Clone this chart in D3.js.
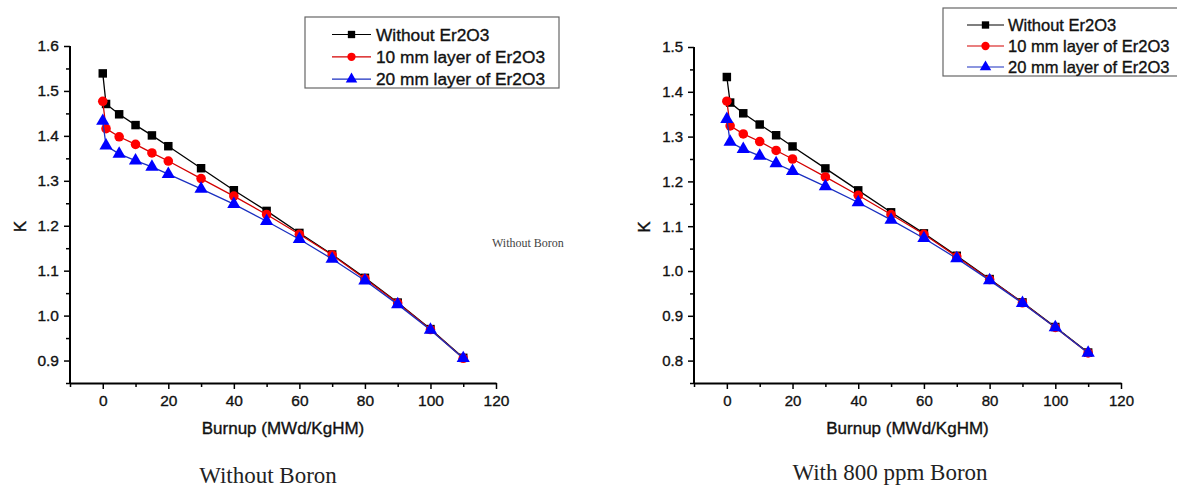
<!DOCTYPE html>
<html><head><meta charset="utf-8">
<script src="https://cdn.jsdelivr.net/npm/d3@7"></script>
<style>body{margin:0;background:#fff}svg{display:block}</style>
</head><body>
<svg id="c" width="1177" height="487"></svg>
<script>
const burnup = [0,1,5,10,15,20,30,40,50,60,70,80,90,100,110];
const seriesNames = ["Without Er2O3","10 mm layer of Er2O3","20 mm layer of Er2O3"];
// Without boron
const noEr_noB = [1.539,1.471,1.448,1.424,1.401,1.377,1.328,1.279,1.233,1.184,1.136,1.084,1.029,0.970,0.906];
const er10_noB = [1.477,1.416,1.398,1.381,1.362,1.344,1.305,1.266,1.225,1.181,1.135,1.082,1.028,0.969,0.905];
const er20_noB = [1.433,1.378,1.360,1.345,1.331,1.315,1.282,1.248,1.210,1.170,1.126,1.078,1.025,0.968,0.905];
// With 800 ppm boron
const noEr_B = [1.433,1.376,1.352,1.327,1.303,1.278,1.229,1.180,1.131,1.084,1.034,0.982,0.930,0.875,0.818];
const er10_B = [1.379,1.324,1.306,1.289,1.269,1.250,1.210,1.169,1.126,1.082,1.032,0.981,0.929,0.874,0.817];
const er20_B = [1.339,1.288,1.272,1.257,1.240,1.223,1.189,1.153,1.114,1.073,1.028,0.979,0.928,0.874,0.817];
const xTicks = [0,20,40,60,80,100,120];
const yTicksLeft = [0.9,1.0,1.1,1.2,1.3,1.4,1.5,1.6];
const yTicksRight = [0.8,0.9,1.0,1.1,1.2,1.3,1.4,1.5];
const captions = ["Without Boron","With 800 ppm Boron"];

const svg = d3.select("#c");
const styles = [
  {line:"#000", fill:"#000", sym:d3.symbolSquare, size:72},
  {line:"#d40000", fill:"#f00", sym:d3.symbolCircle, size:72},
  {line:"#1a2fc0", fill:"#00f", sym:d3.symbolTriangle, size:76}
];
const font = "'Liberation Sans', Arial, sans-serif";
const serif = "'Liberation Serif', 'Times New Roman', serif";
function heavy(sel){ return sel.attr("stroke","#111").attr("stroke-width",0.35); }

function panel(cfg){
  const g = svg.append("g");
  const x = d3.scaleLinear().domain([-10,120]).range([cfg.x0, cfg.x1]);
  const y = d3.scaleLinear().domain(cfg.yDom).range([cfg.yBottom, cfg.yTop]);
  // minor ticks
  const xa = d3.axisBottom(x).tickValues(d3.range(-10,121,10).filter(v=>v%20!==0)).tickSize(4).tickFormat("");
  g.append("g").attr("transform",`translate(0,${cfg.yBottom})`).call(xa).call(s=>s.select(".domain").remove()).selectAll("line").attr("stroke-width",1.5);
  const ya = d3.axisLeft(y).tickValues(d3.range(Math.round(cfg.yDom[0]*100), Math.round(cfg.yDom[1]*100)+1, 5).map(v=>v/100).filter(v=>!cfg.yTicks.some(t=>Math.abs(t-v)<1e-6))).tickSize(4).tickFormat("");
  g.append("g").attr("transform",`translate(${cfg.x0},0)`).call(ya).call(s=>s.select(".domain").remove()).selectAll("line").attr("stroke-width",1.5);
  // major
  const xA = g.append("g").attr("transform",`translate(0,${cfg.yBottom})`)
    .call(d3.axisBottom(x).tickValues(xTicks).tickSize(6).tickSizeOuter(0).tickPadding(6).tickFormat(d3.format("d")));
  xA.select(".domain").attr("stroke-width",2);
  xA.selectAll("line").attr("stroke-width",1.5);
  heavy(xA.selectAll("text").attr("font-family",font).attr("font-size",cfg.tickFs).attr("fill","#111"));
  const yA = g.append("g").attr("transform",`translate(${cfg.x0},0)`)
    .call(d3.axisLeft(y).tickValues(cfg.yTicks).tickSize(6).tickSizeOuter(0).tickPadding(5).tickFormat(d3.format(".1f")));
  yA.select(".domain").attr("stroke-width",2).attr("d",`M0,${cfg.yBottom}V${cfg.yTop}`);
  yA.selectAll("line").attr("stroke-width",1.5);
  heavy(yA.selectAll("text").attr("font-family",font).attr("font-size",cfg.tickFs).attr("fill","#111"));
  // titles
  heavy(g.append("text").attr("x",(cfg.x0+cfg.x1)/2).attr("y",434).attr("text-anchor","middle")
    .attr("font-family",font).attr("font-size",17).attr("fill","#111").text("Burnup (MWd/KgHM)"));
  heavy(g.append("text").attr("transform",`translate(${cfg.x0-44},${(cfg.yBottom+cfg.yTop)/2+12}) rotate(-90)`).attr("text-anchor","middle")
    .attr("font-family",font).attr("font-size",17).attr("fill","#111").text("K"));
  // series
  const line = d3.line().x((d,i)=>x(burnup[i])).y(d=>y(d));
  cfg.series.forEach((vals,k)=>{
    const st = styles[k];
    g.append("path").datum(vals).attr("d",line).attr("fill","none").attr("stroke",st.line).attr("stroke-width",1.3);
    g.selectAll(null).data(vals).enter().append("path")
      .attr("transform",(d,i)=>`translate(${x(burnup[i])},${y(d)})`)
      .attr("d",d3.symbol().type(st.sym).size(st.size)).attr("fill",st.fill);
  });
  // legend
  const L = cfg.legend;
  g.append("rect").attr("x",L.x).attr("y",L.y).attr("width",L.w).attr("height",L.h)
    .attr("fill","#fff").attr("stroke","#666").attr("stroke-width",1.2);
  seriesNames.forEach((n,k)=>{
    const st = styles[k];
    const ry = L.row0 + k*L.dy;
    g.append("line").attr("x1",L.lx0).attr("x2",L.lx1).attr("y1",ry).attr("y2",ry).attr("stroke",st.line).attr("stroke-width",1.2);
    g.append("path").attr("transform",`translate(${(L.lx0+L.lx1)/2},${ry})`).attr("d",d3.symbol().type(st.sym).size(st.size*0.75)).attr("fill",st.fill);
    heavy(g.append("text").attr("x",L.tx).attr("y",ry).attr("dy","0.35em").attr("font-family",font).attr("font-size",L.fs).attr("fill","#111").text(n));
  });
  // caption
  g.append("text").attr("x",cfg.capX).attr("y",cfg.capY).attr("text-anchor","middle")
    .attr("font-family",serif).attr("font-size",cfg.capFs).attr("fill","#222").text(cfg.caption);
  return g;
}

panel({x0:70,x1:496,yTop:46,yBottom:383,yDom:[0.85,1.6],yTicks:yTicksLeft,tickFs:15.5,
  series:[noEr_noB,er10_noB,er20_noB],
  legend:{x:305,y:17,w:254,h:71,row0:34.5,dy:22.3,lx0:332,lx1:371,tx:376,fs:17.3},
  caption:captions[0],capX:268,capY:483,capFs:23});
panel({x0:694,x1:1121,yTop:47,yBottom:383,yDom:[0.75,1.5],yTicks:yTicksRight,tickFs:15,
  series:[noEr_B,er10_B,er20_B],
  legend:{x:943,y:8,w:240,h:68,row0:25,dy:21,lx0:967,lx1:1004,tx:1008,fs:16.5},
  caption:captions[1],capX:890,capY:480,capFs:23});
svg.append("text").attr("x",492).attr("y",247).attr("font-family",serif).attr("font-size",12).attr("fill","#444").text("Without Boron");
</script>
</body></html>
